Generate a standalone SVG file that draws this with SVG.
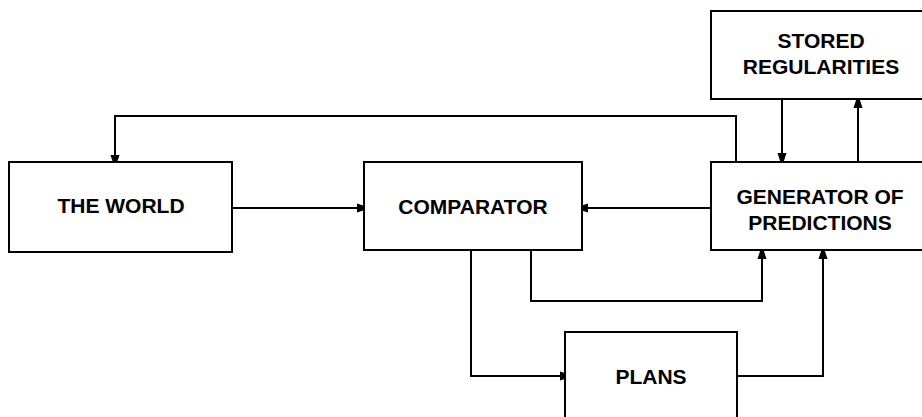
<svg xmlns="http://www.w3.org/2000/svg" width="922" height="417" viewBox="0 0 922 417">
<style>
.box{fill:#fff;stroke:#000;stroke-width:2}
.lbl{font-family:"Liberation Sans",Arial,Helvetica,sans-serif;font-weight:bold;font-size:21px;fill:#000;text-anchor:middle}
.wire{fill:none;stroke:#000;stroke-width:2;marker-end:url(#ah)}
</style>
<defs>
<marker id="ah" markerUnits="userSpaceOnUse" markerWidth="16" markerHeight="12" viewBox="0 0 16 12" refX="15" refY="6" orient="auto">
<path d="M1,1.5 L15,6 L1,10.5 Z" fill="#000"/>
</marker>
</defs>
<rect width="922" height="417" fill="#fff"/>
<g id="connectors">
<path class="wire" d="M736 162 V116 H115 V169"/>
<path class="wire" d="M232 208 H371"/>
<path class="wire" d="M711 208 H574"/>
<path class="wire" d="M782 99 V167"/>
<path class="wire" d="M858 162 V94"/>
<path class="wire" d="M471 250 V376 H574"/>
<path class="wire" d="M531 250 V301 H762 V245"/>
<path class="wire" d="M737 376 H823 V245"/>
</g>
<g id="world">
<rect class="box" x="9" y="162" width="223" height="90"/>
<text class="lbl" x="121" y="213">THE WORLD</text>
</g>
<g id="comparator">
<rect class="box" x="364" y="162" width="218" height="88"/>
<text class="lbl" x="473" y="214">COMPARATOR</text>
</g>
<g id="generator">
<rect class="box" x="711" y="162" width="222" height="88"/>
<text class="lbl" x="820" y="204">GENERATOR OF</text>
<text class="lbl" x="820" y="230">PREDICTIONS</text>
</g>
<g id="stored">
<rect class="box" x="711" y="11" width="222" height="88"/>
<text class="lbl" x="821" y="48">STORED</text>
<text class="lbl" x="821" y="74">REGULARITIES</text>
</g>
<g id="plans">
<rect class="box" x="565" y="332" width="172" height="100"/>
<text class="lbl" x="651" y="384">PLANS</text>
</g>
</svg>
